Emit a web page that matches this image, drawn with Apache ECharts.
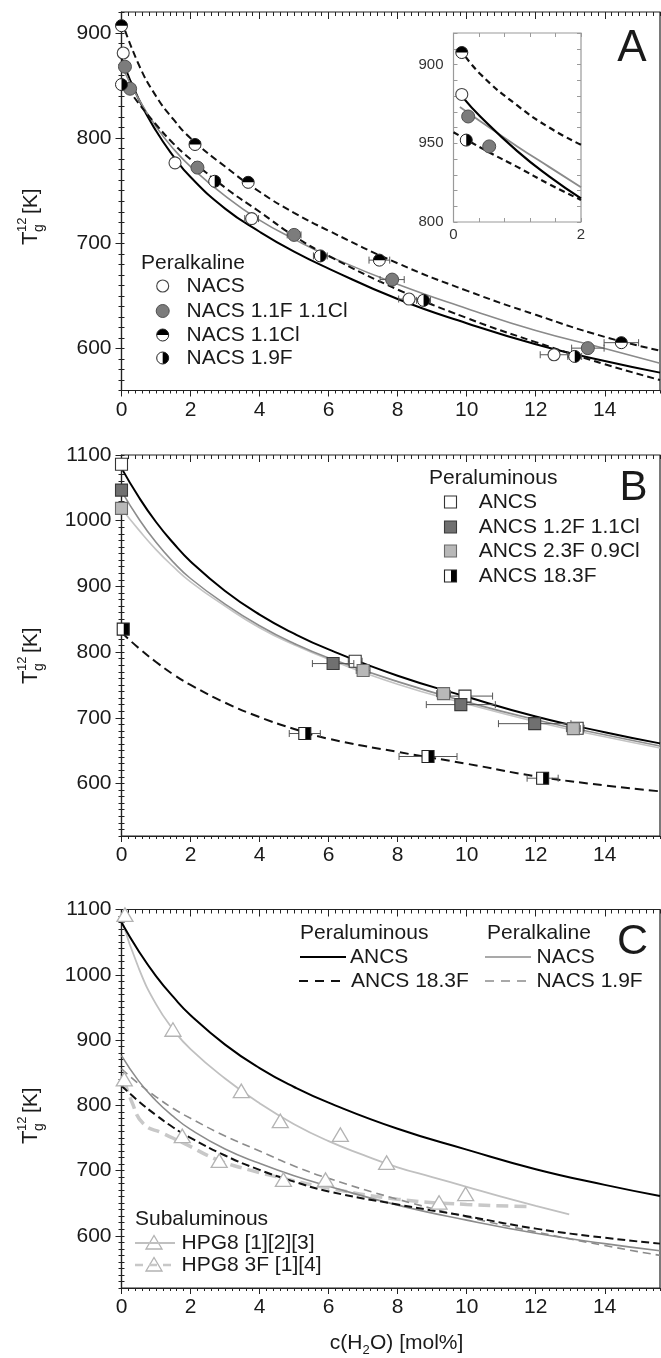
<!DOCTYPE html>
<html><head><meta charset="utf-8">
<script src="https://cdn.jsdelivr.net/npm/echarts@6/dist/echarts.min.js"></script>
<style>html,body{margin:0;padding:0;background:#fff}#c{width:661px;height:1358px}</style>
</head><body><div id="c"></div><script>
// ================= DATA =================
const xTickLabels = [0, 2, 4, 6, 8, 10, 12, 14];
const yTickLabelsA = [600, 700, 800, 900];
const yTickLabelsBC = [600, 700, 800, 900, 1000, 1100];
const insetXTickLabels = [0, 2];
const insetYTickValues = [800, 850, 900];
const insetYTickTexts = ['800', '950', '900'];

// Panel A measured points [x, y, xErr]
const ptsNACS = [[0.05, 881, 0], [1.55, 776.5, 0], [3.77, 723.5, 0.2], [8.33, 647, 0.3], [12.53, 594, 0.4]];
const ptsNACS_1F_1Cl = [[0.1, 868, 0], [0.25, 847, 0], [2.2, 772, 0.1], [5.0, 708, 0.2], [7.84, 665.5, 0.35], [13.51, 600.3, 0.47]];
const ptsNACS_1Cl = [[0, 907, 0], [2.13, 794, 0.15], [3.67, 758, 0.1], [7.47, 684, 0.3], [14.48, 605.5, 0.5]];
const ptsNACS_19F = [[0, 851, 0], [2.7, 759, 0], [5.76, 688, 0.2], [8.75, 645.7, 0.2], [13.13, 592.4, 0.2]];
// Panel A fitted curves [x, y]
const fitNACS = [[0,876],[0.5,837],[1,807],[1.5,783],[2,763],[3,733],[4,711],[5,692],[6,676],[8,647],[10,624],[12,604],[14,588],[15.6,577]];
const fitNACS_1F_1Cl = [[0,869],[0.5,837],[1,811],[1.5,790],[2,773],[3,745],[4,722],[5,704],[6,688],[8,661],[10,638],[12,617],[14,600],[15.6,586]];
const fitNACS_1Cl = [[0,912],[0.5,870],[1,840],[1.5,818],[2,800],[3,773],[4,749],[5,729],[6,712],[8,681],[10,655],[12,632],[14,611],[15.6,598]];
const fitNACS_19F = [[0,856],[0.5,833],[1,813],[1.5,795],[2,780],[3,753],[4,730],[5,707],[6,688],[8,656],[10,629],[12,606],[14,585],[15.6,570]];
// Inset (as drawn)
const insetNACS = [[0.13, 881]];
const insetNACS_1F_1Cl = [[0.23, 867], [0.56, 848]];
const insetNACS_1Cl = [[0.13, 907.6]];
const insetNACS_19F = [[0.2, 852]];
const insetFitNACS = [[0.15,879],[0.42,867],[1,845],[1.5,829],[2,815]];
const insetFitNACS_1F_1Cl = [[0.1,873],[0.42,864],[1,848],[1.5,835],[2,822]];
const insetFitNACS_1Cl = [[0.1,910],[0.42,894],[1,874],[1.5,860],[2,849]];
const insetFitNACS_19F = [[0,857],[0.57,844],[1,835],[1.5,824],[2,814]];

// Panel B measured points
const ptsANCS = [[0, 1086, 0], [6.77, 786, 0.2], [9.95, 733, 0.8], [13.2, 684, 0.2]];
const ptsANCS_12F_11Cl = [[0, 1046.6, 0], [6.13, 782.5, 0.6], [9.83, 720, 1.0], [11.97, 691, 1.05]];
const ptsANCS_23F_09Cl = [[0, 1018.7, 0], [7.0, 772, 0.2], [9.33, 736.7, 0.2], [13.09, 683.4, 0.2]];
const ptsANCS_183F = [[0.05, 835, 0], [5.31, 676, 0.45], [8.88, 641, 0.84], [12.2, 608, 0.45]];
// Panel B curves
const fitANCS = [[0,1080],[0.5,1036],[1,998],[1.5,966],[2,938],[3,893],[4,857],[5,828],[6,804],[8,764],[10,732],[12,702],[14,678],[15.6,661]];
const fitANCS_12F_11Cl = [[0,1045],[0.5,1003],[1,967],[1.5,937],[2,912],[3,873],[4,840],[5,813],[6,791],[8,755],[10,724],[12,697],[14,674],[15.6,657]];
const fitANCS_23F_09Cl = [[0,1018],[0.5,986],[1,956],[1.5,930],[2,907],[3,870],[4,837],[5,811],[6,789],[8,751],[10,721],[12,694],[14,671],[15.6,654]];
const fitANCS_183F = [[0,830],[0.5,806],[1,785],[1.5,766],[2,750],[3,723],[4,701],[5,683],[6,668],[8,648],[10,630],[12,611],[14,597],[15.6,588]];

// Panel C
const ptsHPG8 = [[0.1, 1091], [1.49, 915], [3.47, 821], [4.6, 775], [6.34, 754], [7.68, 711], [9.97, 663]];
const ptsHPG8_3F = [[0.08, 839], [1.76, 752], [2.83, 714], [4.69, 685], [5.91, 685], [9.2, 650]];
const fitHPG8 = [[0,1085],[0.5,1010],[1,955],[1.5,916],[2,886],[3,841],[4,803],[5,771],[6,745],[7,724],[8,705],[9,690],[10,675],[11,660],[12,646],[12.97,633]];
const fitHPG8_3F = [[0.08,838],[0.3,805],[0.63,772],[1.2,757],[1.8,742],[2.8,716],[3.7,701],[4.7,688],[6,673],[8,656],[10,648],[11.8,645]];

const legendA = ['NACS', 'NACS 1.1F 1.1Cl', 'NACS 1.1Cl', 'NACS 1.9F'];
const legendB = ['ANCS', 'ANCS 1.2F 1.1Cl', 'ANCS 2.3F 0.9Cl', 'ANCS 18.3F'];
const legendC = ['ANCS', 'ANCS 18.3F', 'NACS', 'NACS 1.9F'];
const legendSub = ['HPG8 [1][2][3]', 'HPG8 3F [1][4]'];

// ================= HELPERS =================
const FONT = '"Liberation Sans", Arial, Helvetica, sans-serif';
const TXT = '#1a1a1a';
function steps(a, b, s) { const r = []; for (let i = 0; a + i * s <= b + 1e-9; i++) r.push(+(a + i * s).toFixed(4)); return r; }

const grid = [], xAxis = [], yAxis = [], series = [], graphic = [];

function baseAxis(gi, min, max, pos, color) {
  return { gridIndex: gi, type: 'value', min, max, position: pos, splitLine: { show: false },
    axisLine: { show: false, onZero: false, lineStyle: { color, width: 1.2 } },
    axisLabel: { show: false }, axisTick: { show: false } };
}
function tickAxis(gi, min, max, pos, color, values, len, inside) {
  const a = baseAxis(gi, min, max, pos, color);
  a.axisTick = { show: true, customValues: values, length: len, inside, lineStyle: { color, width: 1 } };
  return a;
}

function mainPanel(gi, box, xr, yr, yLabels) {
  grid.push({ left: box.left, top: box.top, width: box.width, height: box.height, show: true,
    borderColor: '#222', borderWidth: 1.2, backgroundColor: 'transparent', outerBoundsMode: 'none' });
  const C = '#222';
  const xi = xAxis.length, yi = yAxis.length;
  const xMajor = steps(0, 14, 2), xMinor = steps(0, xr[1], 0.2);
  const yMinor = steps(yr[0], yr[1], 10);
  const mx = baseAxis(gi, xr[0], xr[1], 'bottom', C);
  mx.axisLine.show = true;
  mx.axisTick = { show: true, customValues: xMajor, length: 6, inside: false, lineStyle: { color: C, width: 1 } };
  mx.axisLabel = { show: true, customValues: xTickLabels, fontSize: 21, fontFamily: FONT, color: TXT, margin: 9, formatter: v => String(v) };
  xAxis.push(mx);
  xAxis.push(tickAxis(gi, xr[0], xr[1], 'bottom', C, xMinor, 3, false));
  xAxis.push(tickAxis(gi, xr[0], xr[1], 'top', C, xMajor, 7, true));
  xAxis.push(tickAxis(gi, xr[0], xr[1], 'top', C, xMinor, 4, true));
  const my = baseAxis(gi, yr[0], yr[1], 'left', C);
  my.axisLine.show = true;
  my.axisTick = { show: true, customValues: yLabels, length: 6, inside: false, lineStyle: { color: C, width: 1 } };
  my.axisLabel = { show: true, customValues: yLabels, fontSize: 21, fontFamily: FONT, color: TXT, margin: 10, formatter: v => String(v) };
  yAxis.push(my);
  yAxis.push(tickAxis(gi, yr[0], yr[1], 'left', C, yMinor, 3, false));
  yAxis.push(tickAxis(gi, yr[0], yr[1], 'left', C, yMinor, 3, true));
  return { xi, yi };
}

function insetPanel(gi, box) {
  const C = '#9a9a9a';
  grid.push({ left: box.left, top: box.top, width: box.width, height: box.height, show: true,
    borderColor: C, borderWidth: 1.2, backgroundColor: '#fff', outerBoundsMode: 'none' });
  const xi = xAxis.length, yi = yAxis.length;
  const xt = steps(0, 2, 0.4), yt = steps(800, 920, 10);
  const mx = tickAxis(gi, 0, 2, 'bottom', C, xt, 4, true);
  mx.axisLabel = { show: true, customValues: insetXTickLabels, fontSize: 15, fontFamily: FONT, color: '#333', margin: 5, formatter: v => String(v) };
  xAxis.push(mx);
  xAxis.push(tickAxis(gi, 0, 2, 'top', C, xt, 4, true));
  const my = tickAxis(gi, 800, 920, 'left', C, yt, 4, true);
  my.axisLabel = { show: true, customValues: insetYTickValues, fontSize: 15, fontFamily: FONT, color: '#333', margin: 10,
    formatter: v => insetYTickTexts[insetYTickValues.indexOf(v)] };
  yAxis.push(my);
  yAxis.push(tickAxis(gi, 800, 920, 'right', C, yt, 4, true));
  return { xi, yi };
}

function marker(kind, cx, cy) {
  switch (kind) {
    case 'circOpen': return [{ type: 'circle', shape: { cx, cy, r: 6 }, style: { fill: '#fff', stroke: '#444', lineWidth: 1.1 } }];
    case 'circGrey': return [{ type: 'circle', shape: { cx, cy, r: 6.5 }, style: { fill: '#7c7c7c', stroke: '#505050', lineWidth: 1 } }];
    case 'circTop': return [
      { type: 'circle', shape: { cx, cy, r: 6 }, style: { fill: '#fff' } },
      { type: 'sector', shape: { cx, cy, r0: 0, r: 6, startAngle: Math.PI, endAngle: 2 * Math.PI, clockwise: true }, style: { fill: '#000' } },
      { type: 'circle', shape: { cx, cy, r: 6 }, style: { fill: 'none', stroke: '#222', lineWidth: 1 } }];
    case 'circRight': return [
      { type: 'circle', shape: { cx, cy, r: 6 }, style: { fill: '#fff' } },
      { type: 'sector', shape: { cx, cy, r0: 0, r: 6, startAngle: -Math.PI / 2, endAngle: Math.PI / 2, clockwise: true }, style: { fill: '#000' } },
      { type: 'circle', shape: { cx, cy, r: 6 }, style: { fill: 'none', stroke: '#222', lineWidth: 1 } }];
    case 'sqOpen': return [{ type: 'rect', shape: { x: cx - 6, y: cy - 6, width: 12, height: 12 }, style: { fill: '#fff', stroke: '#333', lineWidth: 1.1 } }];
    case 'sqDark': return [{ type: 'rect', shape: { x: cx - 6, y: cy - 6, width: 12, height: 12 }, style: { fill: '#707070', stroke: '#3a3a3a', lineWidth: 1.1 } }];
    case 'sqLight': return [{ type: 'rect', shape: { x: cx - 6, y: cy - 6, width: 12, height: 12 }, style: { fill: '#b8b8b8', stroke: '#6a6a6a', lineWidth: 1.1 } }];
    case 'sqHalf': return [
      { type: 'rect', shape: { x: cx - 6, y: cy - 6, width: 12, height: 12 }, style: { fill: '#fff' } },
      { type: 'rect', shape: { x: cx + 0.5, y: cy - 6, width: 5.5, height: 12 }, style: { fill: '#000' } },
      { type: 'rect', shape: { x: cx - 6, y: cy - 6, width: 12, height: 12 }, style: { fill: 'none', stroke: '#222', lineWidth: 1.1 } }];
    case 'tri': return [{ type: 'polygon', shape: { points: [[cx, cy - 7.5], [cx - 8, cy + 6], [cx + 8, cy + 6]] }, style: { fill: '#fff', stroke: '#b3b3b3', lineWidth: 1.3 } }];
  }
  return [];
}

function pointSeries(ax, data, kind) {
  series.push({
    type: 'custom', xAxisIndex: ax.xi, yAxisIndex: ax.yi, z: 5, clip: false, silent: true,
    data: data.map(d => [d[0], d[1], d[2] || 0]), encode: { x: 0, y: 1 },
    renderItem(params, api) {
      const x = api.value(0), y = api.value(1), e = api.value(2);
      const p = api.coord([x, y]);
      const ch = [];
      if (e > 0) {
        const a = api.coord([x - e, y]), b = api.coord([x + e, y]);
        const st = { stroke: '#555', lineWidth: 1 };
        ch.push({ type: 'line', shape: { x1: a[0], y1: p[1], x2: b[0], y2: p[1] }, style: st });
        ch.push({ type: 'line', shape: { x1: a[0], y1: p[1] - 3.5, x2: a[0], y2: p[1] + 3.5 }, style: st });
        ch.push({ type: 'line', shape: { x1: b[0], y1: p[1] - 3.5, x2: b[0], y2: p[1] + 3.5 }, style: st });
      }
      marker(kind, p[0], p[1]).forEach(m => ch.push(m));
      return { type: 'group', children: ch };
    }
  });
}

function lineSeries(ax, data, color, width, dash, z) {
  series.push({
    type: 'line', xAxisIndex: ax.xi, yAxisIndex: ax.yi, data, showSymbol: false, symbol: 'none',
    smooth: 0.5, silent: true, z: z || 3,
    lineStyle: { color, width, type: dash || 'solid', cap: 'butt' }
  });
}

// ================= PANELS =================
const XR = [0, 15.6];
const A = mainPanel(0, { left: 121.5, top: 12, width: 538.5, height: 378.5 }, XR, [560, 920], yTickLabelsA);
const B = mainPanel(1, { left: 121.5, top: 455, width: 538.5, height: 381 }, XR, [520, 1100], yTickLabelsBC);
const Cc = mainPanel(2, { left: 121.5, top: 909.5, width: 538.5, height: 378.5 }, XR, [520, 1100], yTickLabelsBC);
const I = insetPanel(3, { left: 453.5, top: 33, width: 127.5, height: 189 });

// Panel A
lineSeries(A, fitNACS, '#000', 2);
lineSeries(A, fitNACS_1F_1Cl, '#8a8a8a', 1.6);
lineSeries(A, fitNACS_1Cl, '#111', 2, [7, 4]);
lineSeries(A, fitNACS_19F, '#111', 2, [7, 4]);
pointSeries(A, ptsNACS, 'circOpen');
pointSeries(A, ptsNACS_1F_1Cl, 'circGrey');
pointSeries(A, ptsNACS_1Cl, 'circTop');
pointSeries(A, ptsNACS_19F, 'circRight');
// Inset
lineSeries(I, insetFitNACS_1F_1Cl, '#8a8a8a', 1.8);
lineSeries(I, insetFitNACS, '#000', 2.2);
lineSeries(I, insetFitNACS_1Cl, '#111', 2.2, [6, 4]);
lineSeries(I, insetFitNACS_19F, '#111', 2.2, [6, 4]);
pointSeries(I, insetNACS, 'circOpen');
pointSeries(I, insetNACS_1F_1Cl, 'circGrey');
pointSeries(I, insetNACS_1Cl, 'circTop');
pointSeries(I, insetNACS_19F, 'circRight');

// Panel B
lineSeries(B, fitANCS_23F_09Cl, '#c4c4c4', 1.6);
lineSeries(B, fitANCS_12F_11Cl, '#8c8c8c', 1.6);
lineSeries(B, fitANCS, '#000', 2);
lineSeries(B, fitANCS_183F, '#111', 2, [9, 5]);
pointSeries(B, ptsANCS, 'sqOpen');
pointSeries(B, ptsANCS_12F_11Cl, 'sqDark');
pointSeries(B, ptsANCS_23F_09Cl, 'sqLight');
pointSeries(B, ptsANCS_183F, 'sqHalf');

// Panel C
lineSeries(Cc, fitHPG8_3F, '#c8c8c8', 3.5, [12, 6], 2);
lineSeries(Cc, fitHPG8, '#c0c0c0', 1.8);
lineSeries(Cc, fitNACS, '#8c8c8c', 1.6);
lineSeries(Cc, fitNACS_19F, '#8c8c8c', 1.6, [8, 5]);
lineSeries(Cc, fitANCS, '#000', 2);
lineSeries(Cc, fitANCS_183F, '#111', 2, [8, 4]);
pointSeries(Cc, ptsHPG8, 'tri');
pointSeries(Cc, ptsHPG8_3F, 'tri');

// ================= TEXT / LEGENDS =================
function txt(text, x, y, size, align, extra) {
  return Object.assign({ type: 'text', x, y, silent: true, z: 10,
    style: { text, fontSize: size, fontFamily: FONT, fill: TXT, align: align || 'left', verticalAlign: 'middle' } }, extra || {});
}
function group(children) { return { type: 'group', silent: true, z: 10, children }; }

function yTitle(cx, cy) {
  graphic.push({ type: 'group', x: cx, y: cy, rotation: Math.PI / 2, silent: true, children: [
    { type: 'text', x: -30, y: 0, style: { text: 'T', fontSize: 22, fontFamily: FONT, fill: TXT, align: 'left', verticalAlign: 'middle' } },
    { type: 'text', x: -17, y: -9, style: { text: '12', fontSize: 13, fontFamily: FONT, fill: TXT, align: 'left', verticalAlign: 'middle' } },
    { type: 'text', x: -17, y: 8, style: { text: 'g', fontSize: 14, fontFamily: FONT, fill: TXT, align: 'left', verticalAlign: 'middle' } },
    { type: 'text', x: 1, y: 0, style: { text: '[K]', fontSize: 21, fontFamily: FONT, fill: TXT, align: 'left', verticalAlign: 'middle' } }
  ] });
}
yTitle(31, 215); yTitle(31, 654); yTitle(31, 1114);

graphic.push(txt('c(H', 362.5, 1343, 21, 'right'));
graphic.push(txt('2', 362.5, 1350, 13, 'left'));
graphic.push(txt('O) [mol%]', 370, 1343, 21, 'left'));

graphic.push(txt('A', 632, 49, 44, 'center'));
graphic.push(txt('B', 633.5, 488, 42, 'center'));
graphic.push(txt('C', 632.5, 942, 43, 'center'));

graphic.push(txt('Peralkaline', 141, 263, 21));
const kindsA = ['circOpen', 'circGrey', 'circTop', 'circRight'];
const rowsA = [286, 311, 335, 358];
legendA.forEach((n, i) => { graphic.push(group(marker(kindsA[i], 162.7, rowsA[i]))); graphic.push(txt(n, 186.5, rowsA[i], 21)); });

graphic.push(txt('Peraluminous', 429, 478, 21));
const kindsB = ['sqOpen', 'sqDark', 'sqLight', 'sqHalf'];
const rowsB = [502, 527, 551, 576];
legendB.forEach((n, i) => { graphic.push(group(marker(kindsB[i], 450.5, rowsB[i]))); graphic.push(txt(n, 478.7, rowsB[i], 21)); });

graphic.push(txt('Peraluminous', 300, 933, 21));
graphic.push(txt('Peralkaline', 487, 933, 21));
function lline(x1, x2, y, color, w, dash) {
  return { type: 'line', silent: true, z: 10, shape: { x1, y1: y, x2, y2: y }, style: { stroke: color, lineWidth: w, lineDash: dash || null } };
}
graphic.push(lline(300, 346, 957, '#000', 2));
graphic.push(txt(legendC[0], 350, 957, 21));
graphic.push(lline(299, 341, 981, '#111', 2, [9, 7]));
graphic.push(txt(legendC[1], 351, 981, 21));
graphic.push(lline(485, 531, 957, '#8c8c8c', 1.6));
graphic.push(txt(legendC[2], 536.5, 957, 21));
graphic.push(lline(485, 526, 981, '#8c8c8c', 1.6, [9, 7]));
graphic.push(txt(legendC[3], 536.5, 981, 21));

graphic.push(txt('Subaluminous', 135, 1219, 21));
graphic.push(lline(135, 175, 1243, '#c0c0c0', 1.8));
graphic.push(group(marker('tri', 154, 1243)));
graphic.push(txt(legendSub[0], 181.5, 1243, 21));
graphic.push(lline(135, 175, 1265, '#c8c8c8', 2.5, [8, 6]));
graphic.push(group(marker('tri', 154, 1265)));
graphic.push(txt(legendSub[1], 181.5, 1265, 21));

const chart = echarts.init(document.getElementById('c'), null, { renderer: 'canvas' });
chart.setOption({ animation: false, backgroundColor: '#fff', grid, xAxis, yAxis, series, graphic });
</script></body></html>
